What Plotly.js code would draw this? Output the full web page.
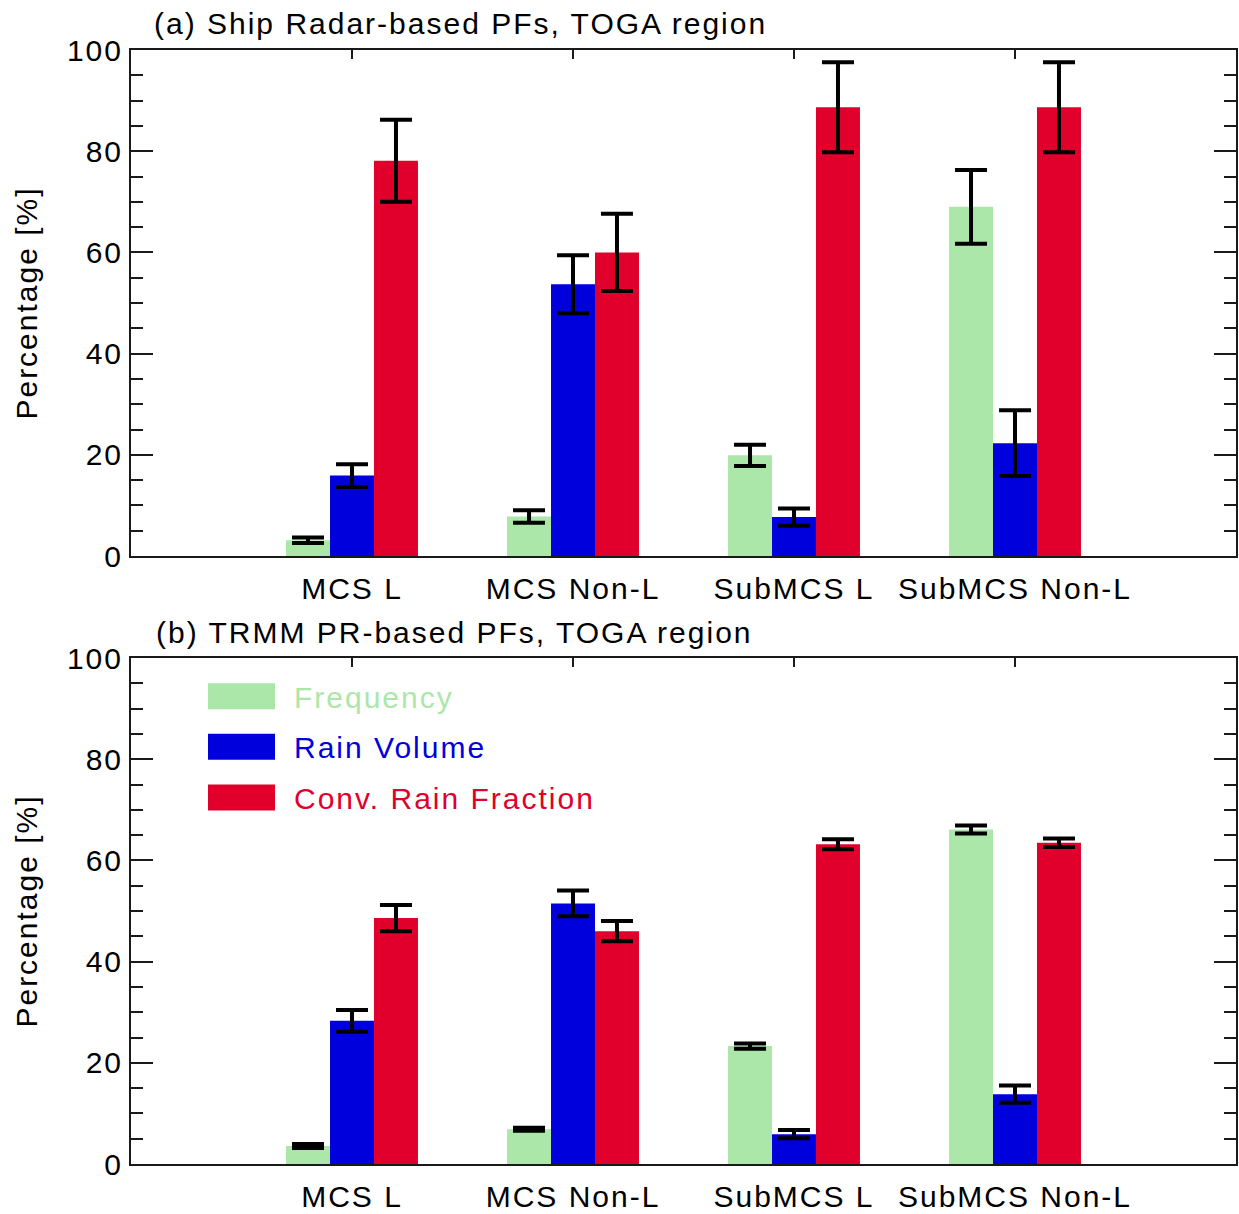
<!DOCTYPE html>
<html>
<head>
<meta charset="utf-8">
<script src="https://cdn.plot.ly/plotly-3.0.1.min.js"></script>
<style>
html,body{margin:0;padding:0;background:#fff;}
#chart{width:1239px;height:1214px;}
#chart svg text{letter-spacing:2px;}
</style>
</head>
<body>
<div id="chart"></div>
<script>
// ---- data ----
const categories = ['MCS L', 'MCS Non-L', 'SubMCS L', 'SubMCS Non-L'];
const seriesNames = ['Frequency', 'Rain Volume', 'Conv. Rain Fraction'];
const seriesColors = ['#ABE7A8', '#0000DC', '#E0002B'];

// (a) Ship radar-based PFs
const shipFreq = [3.1, 7.8, 19.9, 69.0];
const shipFreqErr = [0.55, 1.25, 2.1, 7.3];
const shipVol = [15.9, 53.7, 7.7, 22.3];
const shipVolErr = [2.25, 5.75, 1.7, 6.5];
const shipConv = [78.1, 60.0, 88.7, 88.7];
const shipConvErr = [8.1, 7.65, 8.9, 8.9];

// (b) TRMM PR-based PFs
const trmmFreq = [3.55, 6.85, 23.3, 66.1];
const trmmFreqErr = [0.4, 0.3, 0.5, 0.8];
const trmmVol = [28.3, 51.5, 5.9, 13.8];
const trmmVolErr = [2.15, 2.55, 0.8, 1.7];
const trmmConv = [48.6, 46.0, 63.2, 63.5];
const trmmConvErr = [2.6, 2.0, 1.0, 0.85];

const panelTitles = ['(a) Ship Radar-based PFs, TOGA region', '(b) TRMM PR-based PFs, TOGA region'];
const yTitle = 'Percentage [%]';

// ---- build ----
const FONT = 'Liberation Sans, Arial, Helvetica, sans-serif';
const SPACING = 2; // css letter-spacing (px), compensated for left-anchored annotations
function bar(vals, errs, i, xa, ya) {
  return {
    type: 'bar', x: categories, y: vals, name: seriesNames[i],
    xaxis: xa, yaxis: ya, showlegend: false,
    marker: {color: seriesColors[i], line: {width: 0}},
    error_y: {type: 'data', array: errs, visible: true, color: '#000', thickness: 4, width: 16},
    hoverinfo: 'skip'
  };
}
const data = [
  bar(shipFreq, shipFreqErr, 0, 'x', 'y'),
  bar(shipVol, shipVolErr, 1, 'x', 'y'),
  bar(shipConv, shipConvErr, 2, 'x', 'y'),
  bar(trmmFreq, trmmFreqErr, 0, 'x2', 'y2'),
  bar(trmmVol, trmmVolErr, 1, 'x2', 'y2'),
  bar(trmmConv, trmmConvErr, 2, 'x2', 'y2')
];

function xax(anchor) {
  return {
    anchor: anchor, type: 'category', range: [-1, 4],
    showline: true, linecolor: '#1a1a1a', linewidth: 2, mirror: 'allticks',
    ticks: 'inside', ticklen: 9, tickwidth: 1.5, tickcolor: '#1a1a1a',
    showgrid: false, zeroline: false, layer: 'below traces',
    tickfont: {family: FONT, size: 30, color: '#000'}, ticklabelstandoff: 5
  };
}
function yax(anchor, domain) {
  return {
    anchor: anchor, domain: domain, range: [0, 100], tick0: 0, dtick: 20,
    showline: true, linecolor: '#1a1a1a', linewidth: 2, mirror: 'allticks',
    ticks: 'inside', ticklen: 22, tickwidth: 2, tickcolor: '#1a1a1a',
    minor: {dtick: 5, ticks: 'inside', ticklen: 12, tickwidth: 2, tickcolor: '#1a1a1a', showgrid: false},
    showgrid: false, zeroline: false,
    tickfont: {family: FONT, size: 30, color: '#000'},
    title: {text: yTitle, font: {family: FONT, size: 30, color: '#000'}, standoff: 26}
  };
}

const H = 1114, BOT = 1164;
const py = p => (BOT - p) / H;        // pixel row -> paper fraction
const px = p => (p - 131) / 1105;     // pixel column -> paper fraction
const leftText = (p, s) => px(p + s.length * SPACING / 2);

const shapes = [], annotations = [];
const legendRows = [696.3, 746.7, 797.5];
seriesNames.forEach((n, i) => {
  shapes.push({type: 'rect', xref: 'paper', yref: 'paper',
    x0: px(208), x1: px(275), y0: py(legendRows[i] + 13), y1: py(legendRows[i] - 13),
    fillcolor: seriesColors[i], line: {width: 0}});
  annotations.push({xref: 'paper', yref: 'paper', x: leftText(292, n), y: py(legendRows[i] + 1),
    xanchor: 'left', yanchor: 'middle', text: n, showarrow: false,
    font: {family: FONT, size: 30, color: seriesColors[i]}});
});
annotations.push({xref: 'paper', yref: 'paper', x: leftText(152, panelTitles[0]), y: py(23), xanchor: 'left', yanchor: 'middle',
  text: panelTitles[0], showarrow: false, font: {family: FONT, size: 30, color: '#000'}});
annotations.push({xref: 'paper', yref: 'paper', x: leftText(154, panelTitles[1]), y: py(632), xanchor: 'left', yanchor: 'middle',
  text: panelTitles[1], showarrow: false, font: {family: FONT, size: 30, color: '#000'}});

const layout = {
  width: 1239, height: 1214,
  margin: {l: 131, r: 3, t: 50, b: 50},
  paper_bgcolor: '#fff', plot_bgcolor: '#fff',
  barmode: 'group', bargap: 0.403, bargroupgap: 0,
  xaxis: xax('y'), yaxis: yax('x', [py(556), 1]),
  xaxis2: xax('y2'), yaxis2: yax('x2', [0, py(658)]),
  shapes: shapes, annotations: annotations,
  font: {family: FONT, size: 30, color: '#000'}
};

Plotly.newPlot('chart', data, layout, {displayModeBar: false, staticPlot: true});
</script>
</body>
</html>
